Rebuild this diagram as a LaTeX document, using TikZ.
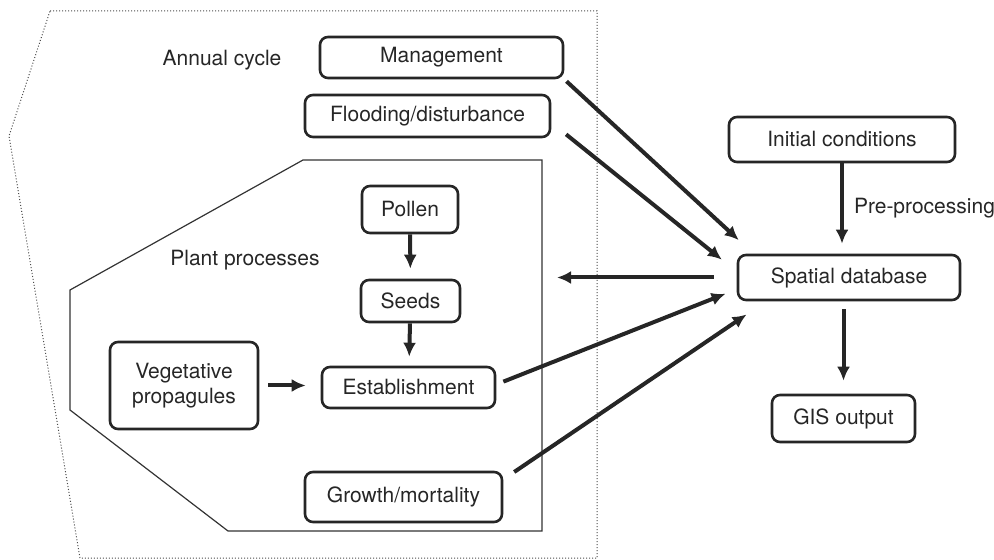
\documentclass[tikz,border=0pt]{standalone}
\usepackage{fontspec}
\setmainfont{TeX Gyre Heros}
\usetikzlibrary{arrows.meta,shapes,positioning}

\begin{document}
\begin{tikzpicture}[x=0.5pt,y=-0.5pt,
        box/.style={draw=black!85, line width=1.3pt, rounded corners=4pt, inner sep=0pt,
            text=black!85, align=center, font=\fontsize{10.5}{12.5}\selectfont},
        flow/.style={draw=black!85, line width=2pt, -{Latex[length=7pt,width=6.5pt]}},
        lbl/.style={text=black!85, inner sep=0pt, font=\fontsize{10.5}{12.5}\selectfont}]
        \useasboundingbox (0,0) rectangle (994,560);

        % annual cycle and plant processes outlines
        \draw[densely dotted, line width=0.5pt, black!70] (50,11) -- (597,11) -- (597,558) -- (80,558) -- (9,136) -- cycle;
        \draw[line width=0.6pt, black!80] (303,160) -- (542,160) coordinate (pp ne) -- (542,531) -- (228,531) -- (70,410) -- (70,290) -- cycle;

        \node[lbl] (annual) at (222,60) {Annual cycle};
        \node[lbl] (plant) at (245,260) {Plant processes};

        \node[box, minimum width=121.5pt, minimum height=20.5pt] (mgmt) at (441.5,57.5) {Management};
        \node[box, minimum width=122.5pt, minimum height=21pt] (flood) at (427.5,116) {Flooding/disturbance};

        \node[box, minimum width=48pt, minimum height=23.5pt] (pollen) at (410,209.5) {Pollen};
        \node[box, minimum width=49.5pt, minimum height=21pt] (seeds) at (410.5,301) {Seeds};
        \node[box, minimum width=86.5pt, minimum height=20.5pt] (est) at (408.5,387.5) {Establishment};
        \node[box, minimum width=74pt, minimum height=43.5pt] (veg) at (184,385.5) {Vegetative\\propagules};
        \node[box, minimum width=98.5pt, minimum height=25pt] (growth) at (403.5,497) {Growth/mortality};

        \node[box, minimum width=113pt, minimum height=22.5pt] (init) at (842,139.5) {Initial conditions};
        \node[box, minimum width=111pt, minimum height=22.5pt] (sdb) at (849,277.5) {Spatial database};
        \node[box, minimum width=71.5pt, minimum height=23.5pt] (gis) at (843.5,418.5) {GIS output};

        % flows inside plant processes
        \draw[flow, shorten >=5pt] (pollen) -- (seeds);
        \draw[flow, shorten >=4.5pt] (seeds) -- (est);
        \draw[flow, shorten <=4.5pt, shorten >=7.5pt] (veg.east) -- (veg.east -| est.west);

        % flows to and from the spatial database
        \draw[flow, shorten <=1.5pt, shorten >=10pt] (mgmt.south east) -- (sdb.166);
        \draw[flow, shorten <=9.5pt, shorten >=9.5pt] (flood.-3) -- (sdb.177);
        \draw[flow, shorten <=11.5pt, shorten >=7.5pt] (sdb.west) -- (sdb.west -| pp ne);
        \draw[flow, shorten <=3.8pt, shorten >=6pt] (est.2) -- (sdb.186);
        \draw[flow, shorten <=6.6pt, shorten >=11.7pt] (growth.10) -- (sdb.196);

        \draw[flow, shorten >=5pt] (init.south) -- (init.south |- sdb.north) node[lbl, midway, right=5pt] (pre) {Pre-processing};
        \draw[flow, shorten <=4pt, shorten >=6.5pt] (gis.north |- sdb.south) -- (gis.north);
\end{tikzpicture}
\end{document}
